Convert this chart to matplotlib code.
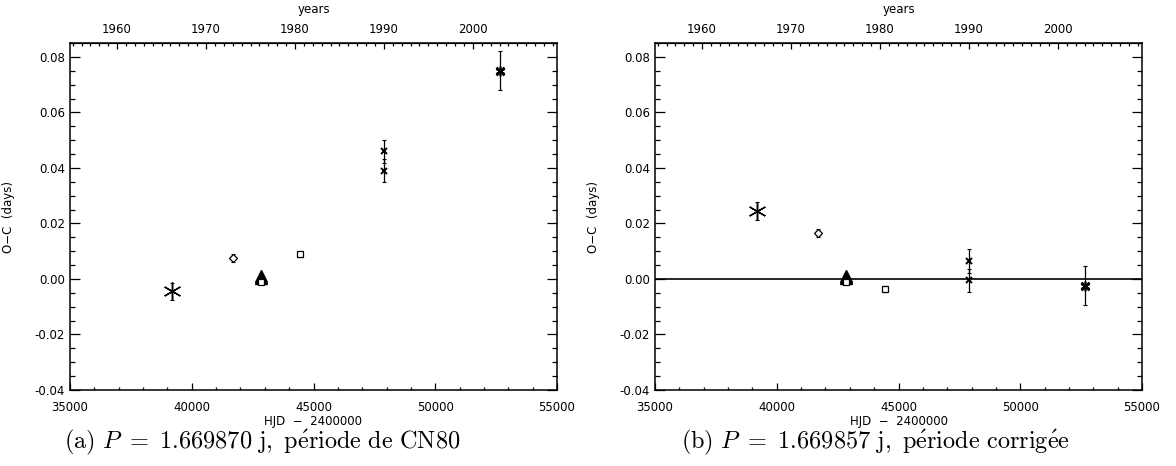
import numpy as np
import matplotlib.pyplot as plt
from matplotlib.ticker import MultipleLocator

# ---- donnees ----
# HJD - 2400000, O-C (jours), barres d'erreur
hjd_ast = [39200]
oc_ast_a = [-0.0045]
oc_ast_b = [0.0245]
err_ast = [0.0032]

hjd_dia = [41700]
oc_dia_a = [0.0075]
oc_dia_b = [0.0165]
err_dia = [0.0014]

hjd_tri = [42850, 42850]
oc_tri_a = [0.0009, 0.0003]
oc_tri_b = [0.0009, 0.0003]

hjd_sq1 = [42850]
oc_sq1_a = [-0.0012]
oc_sq1_b = [-0.0012]

hjd_sq = [44450]
oc_sq_a = [0.009]
oc_sq_b = [-0.0035]
err_sq = [0.0011]

hjd_x = [47900, 47900]
oc_x_a = [0.046, 0.039]
oc_x_b = [0.0065, -0.0005]
err_x = [0.0042, 0.0042]

hjd_bold = [52650]
oc_bold_a = [0.075]
oc_bold_b = [-0.0025]
err_bold = [0.007]

captions = [r'$\mathrm{(a)}\ P\ =\ 1.669870\ \mathrm{j,\ p\acute{e}riode\ de\ CN80}$',
            r'$\mathrm{(b)}\ P\ =\ 1.669857\ \mathrm{j,\ p\acute{e}riode\ corrig\acute{e}e}$']

plt.rcParams['mathtext.fontset'] = 'cm'
plt.rcParams['font.family'] = ['DejaVu Sans']


def hjd2yr(x):
    return 2000.0 + (np.asarray(x) - 51544.5) / 365.25


def yr2hjd(y):
    return 51544.5 + (np.asarray(y) - 2000.0) * 365.25


def panel(ax, oc_ast, oc_dia, oc_tri, oc_sq1, oc_sq, oc_x, oc_bold, zero_line):
    ek = dict(fmt='none', ecolor='k', elinewidth=0.9, capsize=1.5, capthick=0.8)
    ax.errorbar(hjd_ast, oc_ast, yerr=err_ast, **ek)
    ax.plot(hjd_ast, oc_ast, ls='none', marker=(6, 2, 0), ms=13, mew=1.0, color='k')
    ax.errorbar(hjd_dia, oc_dia, yerr=err_dia, **ek)
    ax.plot(hjd_dia, oc_dia, ls='none', marker='D', ms=4, mfc='white', mec='k', mew=0.9)
    ax.plot(hjd_tri, oc_tri, ls='none', marker='^', ms=8, color='k')
    ax.plot(hjd_sq1, oc_sq1, ls='none', marker='s', ms=4, mfc='white', mec='k', mew=0.9)
    ax.errorbar(hjd_sq, oc_sq, yerr=err_sq, **ek)
    ax.plot(hjd_sq, oc_sq, ls='none', marker='s', ms=4, mfc='white', mec='k', mew=0.9)
    ax.errorbar(hjd_x, oc_x, yerr=err_x, **ek)
    ax.plot(hjd_x, oc_x, ls='none', marker='x', ms=4, mew=1.4, color='k')
    ax.errorbar(hjd_bold, oc_bold, yerr=err_bold, **ek)
    ax.plot(hjd_bold, oc_bold, ls='none', marker='x', ms=6, mew=1.8, color='k')
    ax.plot(hjd_bold, oc_bold, ls='none', marker=(6, 2, 0), ms=7, mew=1.2, color='k')
    if zero_line:
        ax.axhline(0, color='k', lw=1.2)

    ax.set_xlim(35000, 55000)
    ax.set_ylim(-0.04, 0.085)
    ax.xaxis.set_major_locator(MultipleLocator(5000))
    ax.xaxis.set_minor_locator(MultipleLocator(1000))
    ax.yaxis.set_major_locator(MultipleLocator(0.02))
    ax.yaxis.set_minor_locator(MultipleLocator(0.005))
    ax.yaxis.set_major_formatter(plt.FuncFormatter(lambda v, p: '%.2f' % v if abs(v) > 1e-9 else '0.00'))
    ax.tick_params(which='both', direction='in', top=False, right=True, labelsize=8.5, width=0.9)
    ax.tick_params(axis='y', which='major', length=7)
    ax.tick_params(axis='y', which='minor', length=3.5)
    ax.tick_params(axis='x', which='major', length=5, pad=8)
    ax.tick_params(axis='x', which='minor', length=2.5)
    ax.set_xlabel('HJD  \u2212  2400000', fontsize=8.5, labelpad=1)
    ax.set_ylabel('O\u2212C  (days)', fontsize=8.5, labelpad=14)
    for s in ax.spines.values():
        s.set_linewidth(1.1)

    top = ax.secondary_xaxis('top', functions=(hjd2yr, yr2hjd))
    top.xaxis.set_major_locator(MultipleLocator(10))
    top.xaxis.set_minor_locator(MultipleLocator(1))
    top.tick_params(which='both', direction='in', labelsize=8.5, width=0.9, pad=5)
    top.tick_params(which='major', length=4)
    top.tick_params(which='minor', length=2.5)
    top.set_xlabel('years', fontsize=8.5, labelpad=7)


fig = plt.figure(figsize=(11.76, 4.66), dpi=100)
ax1 = fig.add_axes([70 / 1176, 76 / 466, 487 / 1176, 347 / 466])
ax2 = fig.add_axes([655 / 1176, 76 / 466, 487 / 1176, 347 / 466])

panel(ax1, oc_ast_a, oc_dia_a, oc_tri_a, oc_sq1_a, oc_sq_a, oc_x_a, oc_bold_a, False)
panel(ax2, oc_ast_b, oc_dia_b, oc_tri_b, oc_sq1_b, oc_sq_b, oc_x_b, oc_bold_b, True)

fig.text(262 / 1176, 1 - 442 / 466, captions[0], fontsize=17.5, ha='center', va='center')
fig.text(875 / 1176, 1 - 442 / 466, captions[1], fontsize=17.5, ha='center', va='center')

fig.savefig('out.png', dpi=100)
